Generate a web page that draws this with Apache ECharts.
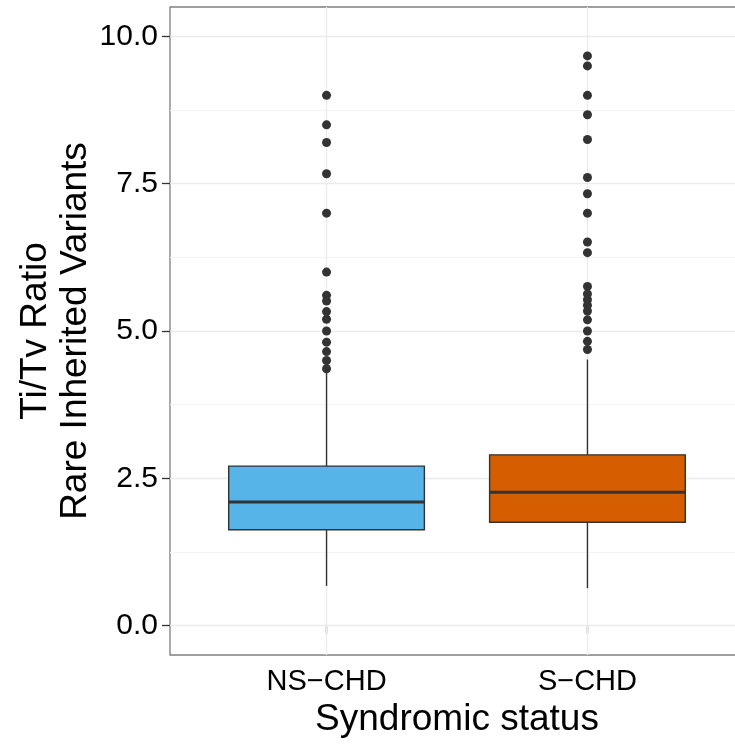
<!DOCTYPE html>
<html><head><meta charset="utf-8">
<script src="https://cdn.jsdelivr.net/npm/echarts@6/dist/echarts.min.js"></script>
<style>html,body{margin:0;padding:0;background:#fff}#chart{width:735px;height:744px}</style>
</head><body><div id="chart"></div>
<script>
// ---- data ----
const categories = ['NS\u2212CHD', 'S\u2212CHD'];
const categoryPositions = [1, 2];
const boxColors = ['#56B4E9', '#D55E00'];
const whiskerLow = [0.673, 0.634];
const q1 = [1.627, 1.753];
const medians = [2.097, 2.261];
const q3 = [2.707, 2.898];
const whiskerHigh = [4.32, 4.515];
const outliersNS = [9.0, 8.5, 8.2, 7.67, 7.0, 6.0, 5.605, 5.51, 5.33, 5.2, 5.0, 4.81, 4.65, 4.5, 4.36];
const outliersS = [9.67, 9.5, 9.0, 8.67, 8.25, 7.605, 7.33, 7.0, 6.51, 6.33, 5.757, 5.63, 5.53, 5.435, 5.34, 5.19, 5.0, 4.825, 4.685];
const yTicks = [0, 2.5, 5, 7.5, 10];
const yMinorBreaks = [1.25, 3.75, 6.25, 8.75];
const xTitle = 'Syndromic status';
const yTitle = 'Ti/Tv Ratio\nRare Inherited Variants';

// ---- build ----
const FONT = '"Liberation Sans", Arial, Helvetica, sans-serif';
const boxData = categoryPositions.map((x, i) => [x, whiskerLow[i], q1[i], medians[i], q3[i], whiskerHigh[i]]);
const outlierData = []
  .concat(outliersNS.map(v => [categoryPositions[0], v]))
  .concat(outliersS.map(v => [categoryPositions[1], v]));
const HALF = 0.375;

const gridLines = []
  .concat(yMinorBreaks.map(v => ({ yAxis: v, lineStyle: { color: '#f4f4f4', width: 1, type: 'solid' } })))
  .concat(yTicks.map(v => ({ yAxis: v, lineStyle: { color: '#ebebeb', width: 1.3, type: 'solid' } })))
  .concat(categoryPositions.map(v => ({ xAxis: v, lineStyle: { color: '#ebebeb', width: 1.3, type: 'solid' } })));

const chart = echarts.init(document.getElementById('chart'), null, { renderer: 'canvas' });
chart.setOption({
  animation: false,
  backgroundColor: '#fff',
  grid: { left: 170, top: 7, width: 574, height: 648, outerBoundsMode: 'none', containLabel: false,
          show: true, borderColor: '#7f7f7f', borderWidth: 1.3, backgroundColor: 'transparent' },
  xAxis: {
    type: 'value', min: 0.4, max: 2.6,
    axisLine: { show: false },
    axisTick: { show: true, customValues: categoryPositions, length: 8, lineStyle: { color: '#333', width: 1.3 } },
    axisLabel: { customValues: categoryPositions, formatter: v => categories[categoryPositions.indexOf(v)] || '', color: '#000', fontSize: 29, fontFamily: FONT, margin: 12 },
    splitLine: { show: false },
    name: xTitle, nameLocation: 'middle', nameGap: 43,
    nameTextStyle: { fontSize: 37, color: '#000', fontFamily: FONT }
  },
  yAxis: {
    type: 'value', min: -0.5, max: 10.5,
    axisLine: { show: false },
    axisTick: { show: true, customValues: yTicks, length: 8, lineStyle: { color: '#333', width: 1.3 } },
    axisLabel: { customValues: yTicks, formatter: v => v.toFixed(1), color: '#000', fontSize: 30, fontFamily: FONT, margin: 12 },
    splitLine: { show: false },
    name: yTitle, nameLocation: 'middle', nameGap: 74, nameRotate: 90, nameMoveOverlap: false,
    nameTextStyle: { fontSize: 37, color: '#000', fontFamily: FONT, lineHeight: 40, align: 'center' }
  },
  series: [
    {
      type: 'custom',
      z: 2,
      data: boxData,
      encode: { x: 0, y: [1, 2, 3, 4, 5] },
      renderItem: function (params, api) {
        const x = api.value(0);
        const i = params.dataIndex;
        const pMin = api.coord([x, api.value(1)]);
        const pQ1 = api.coord([x, api.value(2)]);
        const pQ3 = api.coord([x, api.value(4)]);
        const pMax = api.coord([x, api.value(5)]);
        const l = api.coord([x - HALF, api.value(3)]);
        const r = api.coord([x + HALF, api.value(3)]);
        const lineStyle = { stroke: '#333', lineWidth: 1.4 };
        return {
          type: 'group',
          children: [
            { type: 'line', shape: { x1: pMax[0], y1: pMax[1], x2: pQ3[0], y2: pQ3[1] }, style: lineStyle },
            { type: 'line', shape: { x1: pQ1[0], y1: pQ1[1], x2: pMin[0], y2: pMin[1] }, style: lineStyle },
            { type: 'rect', shape: { x: l[0], y: pQ3[1], width: r[0] - l[0], height: pQ1[1] - pQ3[1] },
              style: { fill: boxColors[i], stroke: '#333', lineWidth: 1.4 } },
            { type: 'line', shape: { x1: l[0], y1: l[1], x2: r[0], y2: r[1] }, style: { stroke: '#333', lineWidth: 3 } }
          ]
        };
      }
    },
    {
      type: 'scatter',
      z: 3,
      data: outlierData,
      symbol: 'circle',
      symbolSize: 9,
      itemStyle: { color: '#333', opacity: 1 },
      markLine: { silent: true, symbol: 'none', z: 1, label: { show: false }, data: gridLines, animation: false }
    }
  ]
});
</script></body></html>
